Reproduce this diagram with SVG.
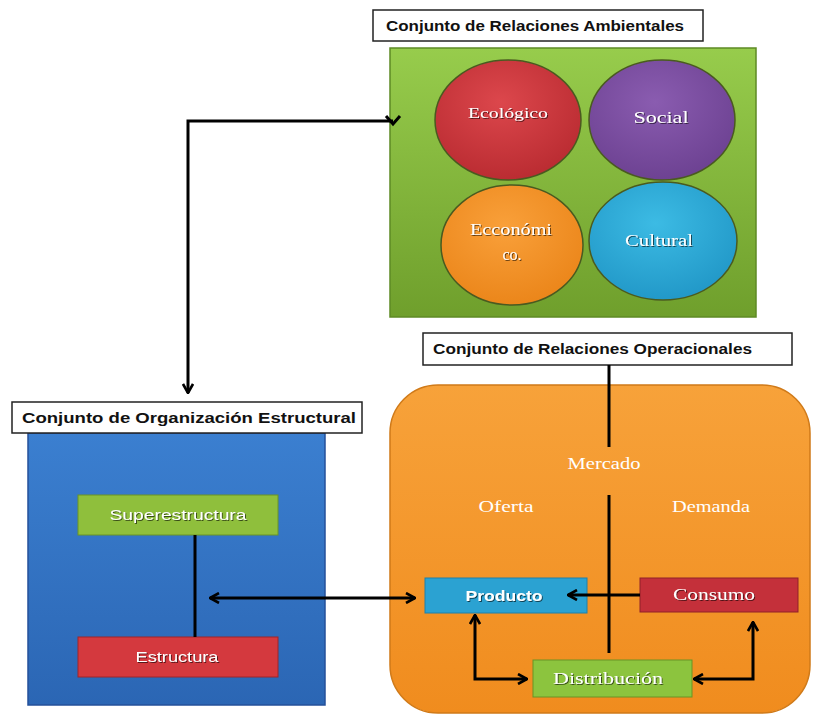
<svg xmlns="http://www.w3.org/2000/svg" width="825" height="715" viewBox="0 0 825 715">
<defs>
<linearGradient id="gGreen" x1="0" y1="0" x2="0" y2="1"><stop offset="0" stop-color="#97cc4c"/><stop offset="1" stop-color="#6f9f2c"/></linearGradient>
<linearGradient id="gBlue" x1="0" y1="0" x2="0" y2="1"><stop offset="0" stop-color="#3b7fd0"/><stop offset="1" stop-color="#2b66b4"/></linearGradient>
<linearGradient id="gOrange" x1="0" y1="0" x2="0" y2="1"><stop offset="0" stop-color="#f7a23a"/><stop offset="1" stop-color="#f08c1e"/></linearGradient>
<radialGradient id="cRed" cx="0.45" cy="0.35" r="0.7"><stop offset="0" stop-color="#dc474c"/><stop offset="1" stop-color="#b82a30"/></radialGradient>
<radialGradient id="cPurple" cx="0.45" cy="0.35" r="0.7"><stop offset="0" stop-color="#8a5cb0"/><stop offset="1" stop-color="#6b4090"/></radialGradient>
<radialGradient id="cOrange" cx="0.45" cy="0.35" r="0.7"><stop offset="0" stop-color="#f9a03a"/><stop offset="1" stop-color="#ea8418"/></radialGradient>
<radialGradient id="cCyan" cx="0.45" cy="0.35" r="0.7"><stop offset="0" stop-color="#3cbbe4"/><stop offset="1" stop-color="#2096c6"/></radialGradient>
<filter id="sh" x="-10%" y="-20%" width="120%" height="140%"><feDropShadow dx="1" dy="1" stdDeviation="0.6" flood-color="#000" flood-opacity="0.6"/></filter>
<marker id="v" viewBox="0 0 12 12" refX="11" refY="6" markerWidth="12" markerHeight="12" markerUnits="userSpaceOnUse" orient="auto-start-reverse">
<path d="M2,1 L11,6 L2,11" fill="none" stroke="#000" stroke-width="2.6"/>
</marker>
</defs>
<style>
.lbl{fill:#fff;stroke:#222;stroke-width:1.5}
.lt{font-family:"Liberation Sans",Arial,sans-serif;font-size:14px;font-weight:bold;fill:#111}
.ct{font-family:"Liberation Serif","Times New Roman",serif;fill:#fff;text-anchor:middle;filter:url(#sh)}
.bt{font-family:"Liberation Sans",Arial,sans-serif;font-size:15px;fill:#fff;text-anchor:middle;filter:url(#sh)}
.st{font-family:"Liberation Serif","Times New Roman",serif;font-size:16px;fill:#fff;text-anchor:middle}
.ln{fill:none;stroke:#000;stroke-width:3}
.circ{stroke:#4a5a20;stroke-width:1.5}
</style>
<rect width="825" height="715" fill="#fff"/>

<g id="ambientales">
<rect x="390" y="48" width="366" height="269" fill="url(#gGreen)" stroke="#5e8a24" stroke-width="1.5"/>
<g id="ecologico"><ellipse cx="508" cy="120" rx="73" ry="60" fill="url(#cRed)" class="circ"/><text x="508" y="118" class="ct" font-size="15" textLength="80" lengthAdjust="spacingAndGlyphs">Ecológico</text></g>
<g id="social"><ellipse cx="662" cy="120" rx="73" ry="60" fill="url(#cPurple)" class="circ"/><text x="661" y="123" class="ct" font-size="17" textLength="55" lengthAdjust="spacingAndGlyphs">Social</text></g>
<g id="economico"><ellipse cx="512" cy="245" rx="71" ry="60" fill="url(#cOrange)" class="circ"/><text x="511" y="235" class="ct" font-size="16" textLength="82" lengthAdjust="spacingAndGlyphs">Ecconómi</text><text x="512" y="260" class="ct" font-size="16">co.</text></g>
<g id="cultural"><ellipse cx="663" cy="241" rx="74" ry="59" fill="url(#cCyan)" class="circ"/><text x="659" y="246" class="ct" font-size="17" textLength="68" lengthAdjust="spacingAndGlyphs">Cultural</text></g>
</g>
<g id="lbl-ambientales"><rect x="373" y="10" width="330" height="31" class="lbl"/><text x="386" y="31" class="lt" textLength="298" lengthAdjust="spacingAndGlyphs">Conjunto de  Relaciones Ambientales</text></g>

<g id="estructural">
<rect x="28" y="433" width="297" height="272" fill="url(#gBlue)" stroke="#24509a" stroke-width="1.5"/>
<g id="superestructura"><rect x="78" y="495" width="200" height="40" fill="#8fbf3c" stroke="#6a9424" stroke-width="1"/><text x="178" y="520" class="bt" textLength="137" lengthAdjust="spacingAndGlyphs">Superestructura</text></g>
<g id="estructura"><rect x="78" y="637" width="200" height="40" fill="#d4393e" stroke="#a02428" stroke-width="1"/><text x="177" y="662" class="bt" textLength="83" lengthAdjust="spacingAndGlyphs">Estructura</text></g>
</g>
<g id="lbl-estructural"><rect x="12" y="402" width="350" height="31" class="lbl"/><text x="22" y="423" class="lt" textLength="334" lengthAdjust="spacingAndGlyphs">Conjunto de  Organización Estructural</text></g>

<g id="operacionales">
<rect x="390" y="385" width="420" height="328" rx="48" ry="48" fill="url(#gOrange)" stroke="#d07a18" stroke-width="1.5"/>
<text x="604" y="469" class="st" textLength="73" lengthAdjust="spacingAndGlyphs">Mercado</text>
<text x="506" y="512" class="st" textLength="55" lengthAdjust="spacingAndGlyphs">Oferta</text>
<text x="711" y="512" class="st" textLength="78" lengthAdjust="spacingAndGlyphs">Demanda</text>
<g id="producto"><rect x="425" y="578" width="162" height="35" fill="#2ba2d2" stroke="#1e80aa" stroke-width="1"/><text x="504" y="601" class="bt" font-size="16" font-weight="bold" textLength="77" lengthAdjust="spacingAndGlyphs">Producto</text></g>
<g id="consumo"><rect x="640" y="578" width="158" height="34" fill="#c4303a" stroke="#902028" stroke-width="1"/><text x="714" y="600" class="st" font-size="18" textLength="82" lengthAdjust="spacingAndGlyphs" filter="url(#sh)">Consumo</text></g>
<g id="distribucion"><rect x="533" y="660" width="159" height="37" fill="#8cc43e" stroke="#6a9424" stroke-width="1"/><text x="608" y="684" class="st" font-size="18" textLength="110" lengthAdjust="spacingAndGlyphs" filter="url(#sh)">Distribución</text></g>
</g>
<g id="lbl-operacionales"><rect x="423" y="333" width="369" height="32" class="lbl"/><text x="433" y="354" class="lt" textLength="319" lengthAdjust="spacingAndGlyphs">Conjunto de  Relaciones Operacionales</text></g>

<g id="connectors">
<path class="ln" d="M393,121 H188 V393" marker-end="url(#v)"/>
<path d="M386,116 L393,124 L400,116" fill="none" stroke="#000" stroke-width="3"/>
<line class="ln" x1="195" y1="535" x2="195" y2="637"/>
<line class="ln" x1="210" y1="598" x2="415" y2="598" marker-start="url(#v)" marker-end="url(#v)"/>
<line class="ln" x1="609" y1="365" x2="609" y2="447"/>
<line class="ln" x1="609" y1="495" x2="609" y2="653"/>
<line class="ln" x1="640" y1="595" x2="568" y2="595" marker-end="url(#v)"/>
<path class="ln" d="M475,615 V679 H527" marker-start="url(#v)" marker-end="url(#v)"/>
<path class="ln" d="M694,679 H753 V622" marker-start="url(#v)" marker-end="url(#v)"/>
</g>
</svg>
